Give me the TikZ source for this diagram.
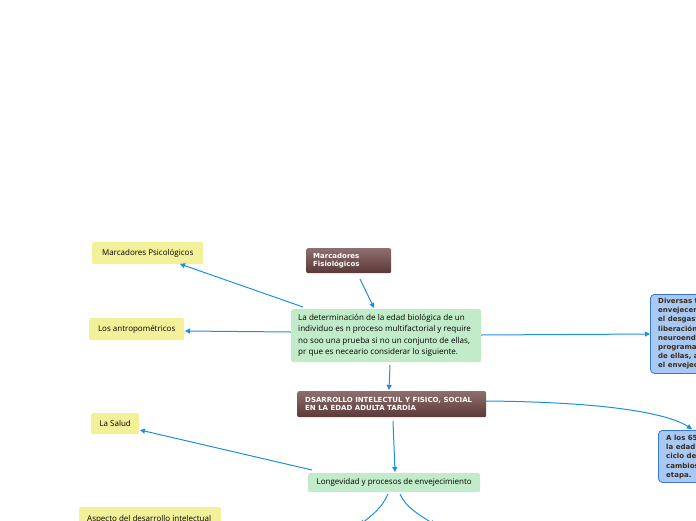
\documentclass[tikz,border=0pt]{standalone}
\usepackage{fontspec}
\setmainfont{Open Sans}
\newfontfamily\vbold{DejaVu Sans}
\usetikzlibrary{arrows.meta,shadings}
\definecolor{conn}{HTML}{1E8FE0}
\definecolor{ygreen}{HTML}{F3F09A}
\definecolor{lgreen}{HTML}{C2ECC9}
\definecolor{btop}{HTML}{8E6E6E}
\definecolor{bbot}{HTML}{5C3838}
\definecolor{bluef}{HTML}{A9C9F5}
\definecolor{blueb}{HTML}{3A78D8}
\definecolor{bluetext}{HTML}{3A2A1A}
\tikzset{
  yellowbox/.style={fill=ygreen, rounded corners=2pt, inner sep=0pt, font=\fontsize{8}{10}\selectfont, text=black},
  greenbox/.style={fill=lgreen, rounded corners=2pt, inner sep=0pt, font=\fontsize{8}{10}\selectfont, text=black},
  brownbox/.style={top color=btop, bottom color=bbot, rounded corners=2pt, inner sep=0pt},
  browntext/.style={anchor=west, inner sep=0pt, text=white, font=\vbold\bfseries\fontsize{7}{8}\selectfont, align=left},
  bluebox/.style={fill=bluef, draw=blueb, line width=0.8pt, rounded corners=4pt, inner sep=0pt},
  bluetext/.style={anchor=north west, inner sep=0pt, text=bluetext, font=\vbold\bfseries\fontsize{7}{9.2}\selectfont, align=left},
  conn/.style={draw=conn, line width=1pt, -{Triangle[length=5pt,width=5pt]}},
}
\begin{document}
\begin{tikzpicture}[x=1pt,y=-1pt]
\useasboundingbox (0,0) rectangle (696,520);
\clip (0,0) rectangle (696,520);
% boxes
\node[brownbox, minimum width=85pt, minimum height=25pt, anchor=north west] (fis) at (306,248) {};
\node[browntext] (fist) at (313,260.5) {Marcadores\\Fisiológicos};
\node[greenbox, minimum width=190pt, minimum height=53pt, anchor=north west] (main) at (291,309) {};
\node[anchor=west, inner sep=0pt, align=left, font=\fontsize{8.1}{11.5}\selectfont, text=black] (maint) at (298,335.5) {La determinación de la edad biológica de un\\individuo es n proceso multifactorial y require\\no soo una prueba si no un conjunto de ellas,\\pr que es neceario considerar lo siguiente.};
\node[brownbox, minimum width=189pt, minimum height=26pt, anchor=north west] (dsa) at (297,391) {};
\node[browntext] (dsat) at (305,404) {DSARROLLO INTELECTUL Y FISICO, SOCIAL\\EN LA EDAD ADULTA TARDÍA};
\node[yellowbox, minimum width=111pt, minimum height=22pt, anchor=north west] (psi) at (92,242) {Marcadores Psicológicos};
\node[yellowbox, minimum width=95pt, minimum height=22pt, anchor=north west] (ant) at (89,318) {Los antropométricos};
\node[yellowbox, minimum width=48pt, minimum height=21pt, anchor=north west] (sal) at (91,413) {La Salud};
\node[yellowbox, minimum width=142pt, minimum height=22pt, anchor=north west] (asp) at (79,507) {};
\node[anchor=west, inner sep=0pt, font=\fontsize{8}{10}\selectfont, text=black] (aspt) at (87,519.5) {Aspecto del desarrollo intelectual};
\node[greenbox, minimum width=172pt, minimum height=19pt, anchor=north west] (lon) at (308,473) {Longevidad y procesos de envejecimiento};
\node[bluebox, minimum width=80pt, minimum height=79pt, anchor=north west] (b1) at (650,294) {};
\node[bluetext] (b1t) at (658,298) {Diversas t\\envejecen\\el desgast\\liberación\\neuroend\\programa\\de ellas, a\\el envejec};
\node[bluebox, minimum width=60pt, minimum height=52pt, anchor=north west] (b2) at (658,430) {};
\node[bluetext] (b2t) at (666,435) {A los 65\\la edad\\ciclo de\\cambios\\etapa.};
% connectors
\coordinate (fisS) at (360,279);
\coordinate (mainN) at (374,308);
\draw[conn] (fisS) -- (mainN);
\coordinate (mainNW) at (303,307);
\coordinate (psiE) at (180,264);
\draw[conn] (mainNW) -- (psiE);
\coordinate (mainW) at (291,332);
\coordinate (antE) at (185,331);
\draw[conn] (mainW) -- (antE);
\coordinate (mainE) at (481,335);
\coordinate (b1W) at (650,334);
\draw[conn] (mainE) -- (b1W);
\coordinate (mainS) at (390,365);
\coordinate (dsaN) at (389,390);
\draw[conn] (mainS) -- (dsaN);
\coordinate (dsaE) at (486,401);
\coordinate (b2N) at (692,429);
\draw[conn] (dsaE) .. controls (600,402) and (665,412) .. (b2N);
\coordinate (dsaS) at (393,421);
\coordinate (lonN) at (395,472);
\draw[conn] (dsaS) -- (lonN);
\coordinate (lonNW) at (312,470);
\coordinate (salE) at (140,430);
\draw[conn] (lonNW) -- (salE);
\coordinate (lonS1) at (388,494);
\coordinate (lonS2) at (400,494);
\coordinate (d1) at (360,525);
\coordinate (d2) at (435,525);
\draw[conn] (lonS1) .. controls (382,508) and (372,515) .. (d1);
\draw[conn] (lonS2) .. controls (406,508) and (420,515) .. (d2);
\end{tikzpicture}
\end{document}
